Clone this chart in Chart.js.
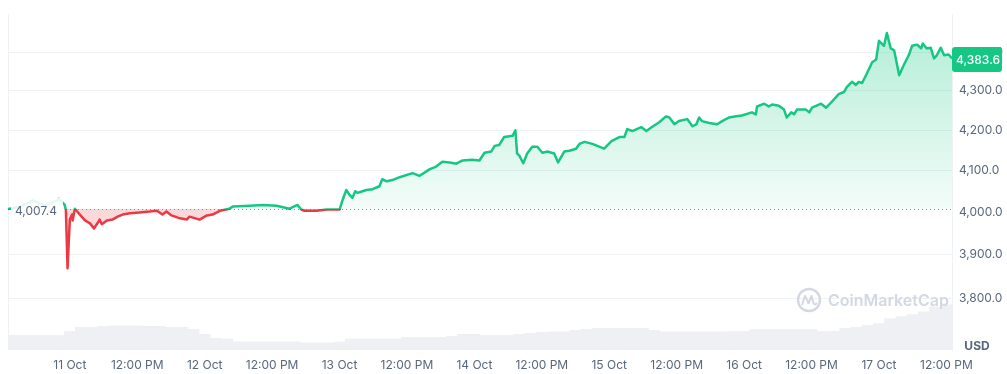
<!DOCTYPE html>
<html>
<head>
<meta charset="utf-8">
<script src="https://cdn.jsdelivr.net/npm/chart.js@4/dist/chart.umd.min.js"></script>
<style>
  html, body { margin: 0; padding: 0; background: #fff; }
  #wrap { width: 1007px; height: 374px; }
</style>
</head>
<body>
<div id="wrap"><canvas id="c" width="1007" height="374"></canvas></div>
<script>
// --- data (hours from 11 Oct 00:00) ---
const BASE_PRICE = 4007.4;
const LAST_PRICE = 4383.6;

const PRICE_HOURS = [
  -11.0, -8.9, -6.6, -4.4, -2.1, -2.0, -0.9, -0.7, -0.4, 0.0, 0.4, 0.5, 0.9, 1.2, 1.8, 2.7, 3.6, 4.3,
  5.0, 5.3, 5.7, 6.6, 7.6, 8.5, 9.4, 10.7, 12.4, 14.2, 15.5, 16.5, 17.2, 18.1, 19.6, 20.8, 21.3, 23.1,
  24.4, 25.4, 26.7, 28.4, 29.0, 32.0, 34.3, 36.8, 39.1, 40.5, 41.2, 41.8, 43.9, 45.7, 48.0, 48.5,
  49.2, 49.8, 50.3, 50.8, 51.2, 52.1, 52.8, 53.9, 55.1, 55.6, 56.4, 57.4, 58.7, 61.0, 62.2, 64.0,
  65.2, 66.3, 67.6, 68.8, 69.9, 71.6, 72.9, 73.8, 75.0, 75.6, 76.4, 77.3, 78.8, 79.3, 79.6, 80.0,
  80.7, 81.4, 82.3, 83.2, 84.1, 85.0, 86.2, 86.9, 88.0, 88.9, 90.1, 90.7, 91.6, 93.0, 94.2, 95.1,
  96.4, 97.8, 98.7, 99.2, 100.1, 101.7, 102.6, 103.6, 104.9, 106.1, 106.7, 107.6, 108.4, 109.9,
  110.8, 111.5, 112.0, 112.5, 113.8, 115.2, 116.1, 117.3, 118.6, 119.6, 121.4, 122.1, 122.3, 123.6,
  124.4, 125.0, 126.2, 127.1, 127.6, 128.4, 128.9, 129.4, 131.0, 131.6, 132.1, 133.7, 134.6, 135.6,
  136.9, 137.8, 138.3, 139.2, 139.9, 140.4, 141.0, 141.7, 142.8, 143.5, 144.0, 144.9, 145.4, 146.1,
  146.7, 147.6, 148.4, 149.3, 149.9, 150.8, 151.5, 151.8, 152.5, 153.2, 153.8, 154.3, 155.0, 155.6,
  156.4, 157.0
];
const PRICES = [
  4007.4, 4012, 4028, 4016, 4029, 4032, 4017, 4005, 3868, 3982, 3994, 3980, 4008, 4003, 3994, 3980, 3973, 3961,
  3975, 3982, 3971, 3980, 3982, 3989, 3994, 3997, 3999, 4001, 4003, 3994, 4001, 3992, 3985, 3982, 3989, 3982,
  3992, 3994, 4003, 4008, 4013, 4015, 4017, 4015, 4008, 4017, 4006, 4003, 4003, 4006, 4006, 4027,
  4053, 4041, 4034, 4050, 4046, 4050, 4053, 4055, 4062, 4079, 4074, 4077, 4084, 4094, 4087, 4103,
  4110, 4122, 4120, 4117, 4125, 4127, 4125, 4144, 4147, 4161, 4163, 4183, 4186, 4200, 4142, 4137,
  4118, 4142, 4159, 4159, 4144, 4147, 4142, 4120, 4147, 4149, 4154, 4166, 4171, 4166, 4159, 4154,
  4173, 4183, 4183, 4203, 4198, 4208, 4198, 4208, 4220, 4235, 4232, 4215, 4223, 4228,
  4210, 4215, 4232, 4223, 4218, 4215, 4223, 4232, 4235, 4237, 4245, 4240, 4260, 4267,
  4260, 4265, 4262, 4252, 4232, 4245, 4240, 4252, 4252, 4245, 4257, 4267, 4257, 4272,
  4292, 4297, 4310, 4323, 4315, 4323, 4320, 4340, 4374, 4381, 4430, 4417, 4451, 4410,
  4405, 4340, 4366, 4392, 4417, 4420, 4410, 4423, 4410, 4412, 4384, 4392, 4412, 4392,
  4394, 4383.6
];

// 2-hour volume bars (relative units)
const VOLUME_HOURS = [
  -10, -8, -6, -4, -2, 0, 2, 4, 6, 8, 10, 12, 14, 16, 18, 20, 22, 24, 26, 28, 30, 32, 34, 36, 38, 40,
  42, 44, 46, 48, 50, 52, 54, 56, 58, 60, 62, 64, 66, 68, 70, 72, 74, 76, 78, 80, 82, 84, 86, 88, 90,
  92, 94, 96, 98, 100, 102, 104, 106, 108, 110, 112, 114, 116, 118, 120, 122, 124, 126, 128, 130,
  132, 134, 136, 138, 140, 142, 144, 146, 148, 150, 152, 154, 156
];
const VOLUMES = [
  1.5, 1.5, 1.5, 1.5, 1.5, 1.9, 2.3, 2.3, 2.4, 2.45, 2.45, 2.45, 2.4, 2.4, 2.3, 2.3, 2.1, 1.6, 1.2, 1.1, 0.85, 0.83, 0.83, 0.83, 0.83, 0.83,
  0.73, 0.73, 0.73, 0.8, 1.1, 1.1, 1.1, 1.1, 1.1, 1.3, 1.3, 1.3, 1.3, 1.4, 1.6, 1.6, 1.5, 1.5, 1.5, 1.6, 1.7, 1.8, 1.85, 1.85, 2.0,
  2.1, 2.2, 2.2, 2.2, 2.2, 2.2, 2.0, 1.85, 1.85, 1.85, 1.85, 1.85, 1.85, 1.9, 1.9, 2.1, 2.1, 2.1, 2.1, 2.1,
  2.1, 1.9, 1.9, 2.2, 2.3, 2.5, 2.7, 3.2, 3.4, 3.6, 3.9, 4.4, 4.6
];

const TICK_HOURS = [0, 12, 24, 36, 48, 60, 72, 84, 96, 108, 120, 132, 144, 156];
const TICK_LABELS = ['11 Oct', '12:00 PM', '12 Oct', '12:00 PM', '13 Oct', '12:00 PM', '14 Oct',
  '12:00 PM', '15 Oct', '12:00 PM', '16 Oct', '12:00 PM', '17 Oct', '12:00 PM'];
const PRICE_TICKS = [3800, 3900, 4000, 4100, 4200, 4300, 4400];

// --- colours ---
const GREEN = '#16c784';
const RED = '#ea3943';
const GRID = '#eff2f5';
const LABEL = '#58667e';

Chart.defaults.font.family = 'Inter';
Chart.defaults.font.size = 12;
Chart.defaults.color = LABEL;

const fmt = v => v.toLocaleString('en-US', { minimumFractionDigits: 1, maximumFractionDigits: 1 });

function splitGradient(chart, topColors, bottomColors) {
  const { ctx, chartArea, scales } = chart;
  if (!chartArea) return topColors[0];
  const yb = scales.y.getPixelForValue(BASE_PRICE);
  const s = Math.min(1, Math.max(0, (yb - chartArea.top) / (chartArea.bottom - chartArea.top)));
  const g = ctx.createLinearGradient(0, chartArea.top, 0, chartArea.bottom);
  g.addColorStop(0, topColors[0]);
  g.addColorStop(s, topColors[1]);
  g.addColorStop(s, bottomColors[0]);
  g.addColorStop(1, bottomColors[1]);
  return g;
}

const overlay = {
  id: 'overlay',
  beforeDatasetsDraw(chart) {
    const { ctx, chartArea, scales } = chart;
    const yb = Math.round(scales.y.getPixelForValue(BASE_PRICE)) + 0.5;
    ctx.save();
    // left edge
    ctx.strokeStyle = GRID;
    ctx.lineWidth = 1;
    ctx.beginPath();
    ctx.moveTo(chartArea.left + 0.5, chartArea.top);
    ctx.lineTo(chartArea.left + 0.5, chartArea.bottom);
    ctx.stroke();
    // dotted open-price line
    ctx.strokeStyle = '#8a93a3';
    ctx.setLineDash([1, 3]);
    ctx.beginPath();
    ctx.moveTo(chartArea.left + 54, yb);
    ctx.lineTo(chartArea.right, yb);
    ctx.stroke();
    ctx.restore();
  },
  afterDatasetsDraw(chart) {
    const { ctx, chartArea, scales } = chart;
    const yb = scales.y.getPixelForValue(BASE_PRICE);
    ctx.save();
    // open-price label
    ctx.fillStyle = 'rgba(255,255,255,0.88)';
    ctx.fillRect(chartArea.left + 3, yb - 11, 52, 24);
    ctx.fillStyle = LABEL;
    ctx.font = '12px Inter';
    ctx.textAlign = 'left';
    ctx.textBaseline = 'middle';
    ctx.fillText(fmt(BASE_PRICE), chartArea.left + 7, yb + 2);

    // watermark
    const wx = 809, wy = 300;
    ctx.strokeStyle = '#d3d9e3';
    ctx.lineWidth = 2.4;
    ctx.beginPath();
    ctx.arc(wx, wy, 11, 0, Math.PI * 2);
    ctx.stroke();
    ctx.lineWidth = 2;
    ctx.lineJoin = 'round';
    ctx.beginPath();
    ctx.moveTo(wx - 7, wy + 5);
    ctx.lineTo(wx - 4, wy - 4);
    ctx.lineTo(wx - 0.5, wy + 3);
    ctx.lineTo(wx + 2.5, wy - 4);
    ctx.lineTo(wx + 4.5, wy + 3);
    ctx.quadraticCurveTo(wx + 6, wy + 6, wx + 8, wy + 3);
    ctx.stroke();
    ctx.fillStyle = '#d3d9e3';
    ctx.font = '600 16px Inter';
    ctx.textBaseline = 'middle';
    ctx.fillText('CoinMarketCap', wx + 19, wy + 1);

    // last price tag
    const yl = scales.y.getPixelForValue(LAST_PRICE);
    const tx = chartArea.right, tw = 50, th = 25;
    ctx.fillStyle = GREEN;
    ctx.beginPath();
    ctx.roundRect(tx, yl - th / 2 + 1, tw, th, 3);
    ctx.fill();
    ctx.fillStyle = '#ffffff';
    ctx.font = '500 12px Inter';
    ctx.textAlign = 'center';
    ctx.fillText(fmt(LAST_PRICE), tx + tw / 2 + 1, yl + 2);

    // currency label
    ctx.fillStyle = LABEL;
    ctx.font = 'bold 12px Inter';
    ctx.fillText('USD', 977, 346);
    ctx.restore();
  }
};

new Chart(document.getElementById('c'), {
  data: {
    datasets: [
      {
        type: 'line',
        order: 1,
        data: PRICE_HOURS.map((h, i) => ({ x: h, y: PRICES[i] })),
        yAxisID: 'y',
        borderWidth: 2.5,
        pointRadius: 0,
        tension: 0,
        borderJoinStyle: 'round',
        borderColor: c => splitGradient(c.chart, [GREEN, GREEN], [RED, RED]),
        backgroundColor: c => splitGradient(c.chart,
          ['rgba(22,199,132,0.34)', 'rgba(22,199,132,0.05)'],
          ['rgba(234,57,67,0.2)', 'rgba(234,57,67,0.12)']),
        fill: { target: { value: BASE_PRICE } }
      },
      {
        type: 'bar',
        order: 2,
        data: VOLUME_HOURS.map((h, i) => ({ x: h, y: VOLUMES[i] })),
        yAxisID: 'yv',
        backgroundColor: '#eef0f4',
        barPercentage: 1,
        categoryPercentage: 1
      }
    ]
  },
  options: {
    responsive: false,
    animation: false,
    layout: { padding: { left: 8, top: 8, right: 0, bottom: 0 } },
    plugins: { legend: { display: false }, tooltip: { enabled: false } },
    scales: {
      x: {
        type: 'linear',
        offset: false,
        min: -11,
        max: 157,
        grid: { display: false, offset: false },
        border: { display: false },
        afterBuildTicks: s => { s.ticks = TICK_HOURS.map(v => ({ value: v })); },
        afterFit: s => { s.height = 24; },
        ticks: {
          autoSkip: false,
          maxRotation: 0,
          padding: 0,
          color: LABEL,
          callback: v => TICK_LABELS[TICK_HOURS.indexOf(v)]
        }
      },
      y: {
        type: 'logarithmic',
        position: 'right',
        min: 3684,
        max: 4501,
        afterBuildTicks: s => { s.ticks = PRICE_TICKS.map(v => ({ value: v })); },
        afterFit: s => { s.width = 55; },
        grid: {
          drawTicks: false,
          color: c => (c.tick && c.tick.value === 4000 ? 'rgba(0,0,0,0)' : GRID)
        },
        border: { display: true, color: GRID },
        ticks: { padding: 7, color: LABEL, callback: v => fmt(v) }
      },
      yv: {
        display: false,
        min: 0,
        max: 34.2
      }
    }
  },
  plugins: [overlay]
});
</script>
</body>
</html>
